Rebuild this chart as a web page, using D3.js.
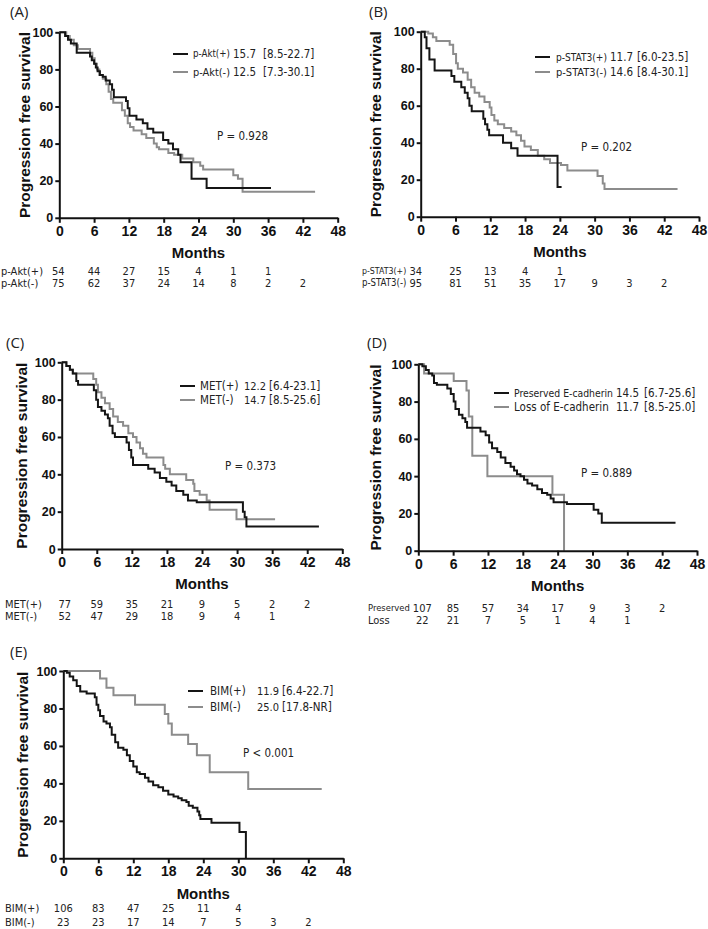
<!DOCTYPE html>
<html lang="en">
<head>
<meta charset="UTF-8">
<title>Progression free survival by marker</title>
<script src="https://d3js.org/d3.v7.min.js"></script>
<style>
  body { margin: 0; background: #fff; }
  svg { display: block; }
  .axis path, .axis line { stroke: #111; stroke-width: 2px; fill: none; }
  .axis text { font-family: "Liberation Sans", Arial, sans-serif; font-weight: bold; fill: #111; }
  .ttl { font-family: "Liberation Sans", Arial, sans-serif; font-weight: bold; fill: #111; }
  .lab { font-family: "Liberation Sans Narrow", "DejaVu Sans Condensed", Lato, sans-serif; fill: #222; }
  .tag { font-family: "Open Sans", sans-serif; fill: #222; }
</style>
</head>
<body>
<svg id="chart" width="708" height="929"></svg>
<script>
// ticks
var monthTicks = [0, 6, 12, 18, 24, 30, 36, 42, 48];
var survTicks = [0, 20, 40, 60, 80, 100];

// curves: [month, % progression free] at each step
var aktPos = [[0,100],[1.0,98],[1.5,96],[2.0,94],[3.0,89],[5.3,87],[5.6,85],[6.0,83],[6.3,81],[6.6,79],[7.0,77],[7.5,76],[8.0,74],[8.7,72],[9.1,69],[9.4,65],[11.5,63],[11.8,59],[12.1,55],[13.3,53],[14.4,51],[15.2,48],[16.2,46],[17.9,42],[18.8,40],[19.6,37],[20.5,34],[20.9,30],[22.8,21],[25.4,16],[36.5,16]];
var aktNeg = [[0,100],[1.2,98],[1.8,96],[2.5,93],[3.2,91],[5.3,89],[5.7,86],[6.1,83],[6.5,80],[6.9,77],[7.5,75],[8.1,72],[8.5,68],[8.9,64],[9.3,62],[10.8,58],[11.3,55],[11.8,51],[12.2,49],[12.8,47],[14.2,45],[15.0,43],[16.3,40],[16.8,38],[17.2,37],[18.8,35],[19.8,34],[21.2,32],[23.1,30],[24.3,28],[24.8,26],[30.0,23],[30.8,21],[31.6,14],[44.1,14]];

var stat3Pos = [[0,100],[0.7,97],[1.0,91],[1.5,85],[2.4,79],[5.3,76],[5.8,73],[7.0,70],[7.6,67],[8.1,64],[8.4,60],[8.8,57],[10.8,53],[11.1,50],[11.5,47],[11.8,44],[14.2,40],[15.6,37],[16.7,33],[23.6,16],[24.3,16]];
var stat3Neg = [[0,100],[1.3,99],[2.1,97],[2.7,95],[5.0,93],[5.6,88],[6.1,83],[6.4,80],[7.3,78],[8.1,74],[8.7,70],[9.3,67],[10.1,65],[11.0,62],[11.9,59],[12.2,55],[12.7,52],[13.3,50],[14.4,48],[15.6,46],[16.5,44],[17.3,41],[17.9,38],[19.0,36],[20.2,33],[21.3,31],[22.3,29],[24.2,28],[25.3,25],[30.5,22],[31.4,18],[31.7,15],[44.3,15]];

var metPos = [[0,100],[0.8,98],[1.4,96],[1.9,94],[2.5,90],[2.8,88],[5.5,85],[5.9,80],[6.2,76],[6.8,74],[7.4,72],[7.9,70],[8.2,66],[8.7,62],[9.1,60],[11.1,57],[11.5,53],[11.9,49],[12.2,45],[14.8,43],[15.9,41],[16.8,38],[17.9,36],[18.8,34],[19.6,31],[20.8,29],[21.6,26],[23.1,25],[31.0,20],[31.3,17],[31.6,12],[44.0,12]];
var metNeg = [[0,100],[0.8,98],[1.4,96],[1.9,94],[5.4,91],[5.9,88],[6.2,84],[6.8,81],[7.4,78],[8.2,75],[8.8,71],[9.6,68],[10.5,66],[11.4,62],[12.2,60],[12.8,57],[13.4,54],[13.9,51],[14.5,49],[17.4,45],[17.7,43],[18.5,40],[21.3,37],[22.5,35],[22.7,31],[23.6,29],[24.8,26],[25.3,21],[29.9,16],[36.5,16]];

var ecadPres = [[0,100],[0.7,99],[1.3,97],[1.8,95],[2.4,94],[2.7,90],[3.2,89],[5.0,87],[5.6,84],[6.1,80],[6.4,76],[7.0,73],[7.6,71],[8.1,69],[8.4,66],[10.7,64],[11.6,62],[12.2,58],[12.7,55],[13.6,53],[14.2,50],[15.0,47],[15.9,45],[16.5,43],[17.0,41],[17.6,40],[18.2,38],[18.8,36],[19.6,35],[20.5,33],[21.3,31],[22.2,30],[22.8,28],[23.3,26],[25.6,25],[30.2,22],[31.0,20],[31.6,15],[44.3,15]];
var ecadLoss = [[0,100],[1.0,95],[6.1,91],[8.3,86],[8.7,72],[9.3,51],[11.9,40],[23.1,30],[25.1,0]];

var bimPos = [[0,100],[0.6,99],[1.1,97],[1.7,95],[2.3,92],[2.9,89],[4.0,88],[5.4,86],[5.7,82],[6.0,79],[6.3,76],[6.9,73],[7.4,72],[8.0,70],[8.3,66],[8.9,62],[9.4,59],[10.3,58],[10.9,55],[11.4,52],[12.0,49],[12.6,46],[13.1,45],[14.0,43],[14.6,41],[15.4,39],[16.3,38],[17.1,36],[18.0,34],[18.9,33],[19.7,32],[20.3,31],[21.1,30],[21.5,28],[22.2,27],[23.0,25],[23.3,23],[23.5,21],[25.4,19],[30.2,14],[31.3,0]];
var bimNeg = [[0,100],[6.3,96],[7.4,91],[8.6,87],[12.3,82],[17.4,77],[18.0,72],[18.6,66],[21.4,61],[22.9,55],[25.1,46],[31.7,37],[44.3,37]];

// numbers at risk, one per month tick
var aktRisk = [[54,44,27,15,4,1,1], [75,62,37,24,14,8,2,2]];
var stat3Risk = [[34,25,13,4,1], [95,81,51,35,17,9,3,2]];
var metRisk = [[77,59,35,21,9,5,2,2], [52,47,29,18,9,4,1]];
var ecadRisk = [[107,85,57,34,17,9,3,2], [22,21,7,5,1,4,1]];
var bimRisk = [[106,83,47,25,11,4], [23,23,17,14,7,5,3,2]];

// legend texts
var aktLegend = [["p-Akt(+)", "15.7", "[8.5-22.7]"], ["p-Akt(-)", "12.5", "[7.3-30.1]"]];
var stat3Legend = [["p-STAT3(+)", "11.7", "[6.0-23.5]"], ["p-STAT3(-)", "14.6", "[8.4-30.1]"]];
var metLegend = [["MET(+)", "12.2", "[6.4-23.1]"], ["MET(-)", "14.7", "[8.5-25.6]"]];
var ecadLegend = [["Preserved E-cadherin", "14.5", "[6.7-25.6]"], ["Loss of E-cadherin", "11.7", "[8.5-25.0]"]];
var bimLegend = [["BIM(+)", "11.9", "[6.4-22.7]"], ["BIM(-)", "25.0", "[17.8-NR]"]];

var riskLabels = [["p-Akt(+)", "p-Akt(-)"], ["p-STAT3(+)", "p-STAT3(-)"], ["MET(+)", "MET(-)"], ["Preserved", "Loss"], ["BIM(+)", "BIM(-)"]];
var pValues = ["P = 0.928", "P = 0.202", "P = 0.373", "P = 0.889", "P < 0.001"];
var tags = ["(A)", "(B)", "(C)", "(D)", "(E)"];

var colors = ["#151515", "#8c8c8c"];

// panel layout (pixels)
var panels = [
  {curves: [aktPos, aktNeg], risk: aktRisk, legend: aktLegend,
   x0: 59.3, x1: 337.7, yTop: 32.3, yBot: 217.8, tag: [10, 12], ylabX: 25,
   leg: {lineX: 173, nameX: 193, medX: 233, ciX: 263, y: [54, 72]}, p: [217, 136], riskX: 1, riskY: [271, 283], col0: -1},
  {curves: [stat3Pos, stat3Neg], risk: stat3Risk, legend: stat3Legend,
   x0: 420.7, x1: 699, yTop: 31.7, yBot: 216.7, tag: [369, 12], ylabX: 376,
   leg: {lineX: 535, nameX: 556, medX: 610, ciX: 637, y: [57, 72]}, p: [581, 147], riskX: 362, riskY: [271, 283], col0: -5},
  {curves: [metPos, metNeg], risk: metRisk, legend: metLegend,
   x0: 61.7, x1: 342.3, yTop: 362.3, yBot: 549, tag: [6, 343], ylabX: 22,
   leg: {lineX: 180, nameX: 200, medX: 244, ciX: 269, y: [386, 400]}, p: [225, 466], riskX: 5, riskY: [604, 616], col0: 3},
  {curves: [ecadPres, ecadLoss], risk: ecadRisk, legend: ecadLegend,
   x0: 418.3, x1: 697, yTop: 364.3, yBot: 550.7, tag: [367, 343], ylabX: 376,
   leg: {lineX: 494, nameX: 514, medX: 616, ciX: 644, y: [393, 407]}, p: [581, 473], riskX: 368, riskY: [608, 620], col0: 4},
  {curves: [bimPos, bimNeg], risk: bimRisk, legend: bimLegend,
   x0: 63.3, x1: 343.3, yTop: 671, yBot: 858.3, tag: [10, 652], ylabX: 23,
   leg: {lineX: 188, nameX: 210, medX: 257, ciX: 282, y: [691, 707]}, p: [243, 753], riskX: 5, riskY: [908, 922], col0: 0}
];

// shrink a label if it would run into the next one
function fitText(sel, size, maxW) {
  var w = sel.node().getComputedTextLength();
  if (w > maxW) sel.style("font-size", (size * maxW / w).toFixed(2) + "px");
}

var svg = d3.select("#chart");

panels.forEach(function(pn, k) {
  var x = d3.scaleLinear().domain([0, 48]).range([pn.x0, pn.x1]);
  var y = d3.scaleLinear().domain([0, 100]).range([pn.yBot, pn.yTop]);
  var g = svg.append("g");

  // panel tag
  g.append("text").attr("class", "tag")
    .attr("x", pn.tag[0]).attr("y", pn.tag[1]).attr("dy", "0.35em")
    .style("font-size", "15px").text(tags[k]);

  // survival curves (gray under black)
  var line = d3.line()
    .x(function(d) { return x(d[0]); })
    .y(function(d) { return y(d[1]); })
    .curve(d3.curveStepAfter);
  [1, 0].forEach(function(i) {
    g.append("path")
      .datum(pn.curves[i])
      .attr("d", line)
      .attr("fill", "none")
      .attr("stroke", colors[i])
      .attr("stroke-width", 2);
  });

  // axes
  g.append("g").attr("class", "axis")
    .attr("transform", "translate(0," + pn.yBot + ")")
    .call(d3.axisBottom(x).tickValues(monthTicks).tickSize(5).tickSizeOuter(0).tickPadding(3))
    .selectAll("text").style("font-size", "14px");
  g.append("g").attr("class", "axis")
    .attr("transform", "translate(" + pn.x0 + ",0)")
    .call(d3.axisLeft(y).tickValues(survTicks).tickSize(4).tickSizeOuter(0).tickPadding(2))
    .selectAll("text").style("font-size", "12.5px");

  // axis titles
  g.append("text").attr("class", "ttl")
    .attr("x", (pn.x0 + pn.x1) / 2).attr("y", pn.yBot + 35).attr("dy", "0.35em")
    .attr("text-anchor", "middle").style("font-size", "15px").text("Months");
  g.append("text").attr("class", "ttl")
    .attr("transform", "translate(" + pn.ylabX + "," + ((pn.yTop + pn.yBot) / 2) + ") rotate(-90)")
    .attr("dy", "0.35em").attr("text-anchor", "middle")
    .style("font-size", "15.5px").text("Progression free survival");

  // legend
  pn.legend.forEach(function(row, i) {
    var ly = pn.leg.y[i];
    g.append("line")
      .attr("x1", pn.leg.lineX).attr("x2", pn.leg.lineX + 15)
      .attr("y1", ly).attr("y2", ly)
      .attr("stroke", colors[i]).attr("stroke-width", 2);
    var xs = [pn.leg.nameX, pn.leg.medX, pn.leg.ciX, 712];
    row.forEach(function(txt, j) {
      var t = g.append("text").attr("class", "lab")
        .attr("x", xs[j]).attr("y", ly).attr("dy", "0.35em")
        .style("font-size", "11.5px").text(txt);
      fitText(t, 11.5, xs[j + 1] - xs[j] - 3);
    });
  });

  // p value
  g.append("text").attr("class", "lab")
    .attr("x", pn.p[0]).attr("y", pn.p[1]).attr("dy", "0.35em")
    .style("font-size", "11.5px").text(pValues[k]);

  // numbers at risk
  pn.risk.forEach(function(row, i) {
    var ry = pn.riskY[i];
    var nums = g.selectAll(null)
      .data(row)
      .enter().append("text").attr("class", "lab")
      .attr("x", function(d, j) { return x(monthTicks[j]) + (j === 0 ? pn.col0 : 0); })
      .attr("y", ry).attr("dy", "0.35em")
      .attr("text-anchor", "middle")
      .style("font-size", "11px")
      .text(function(d) { return d; });
    var firstLeft = x(0) + pn.col0 - nums.node().getComputedTextLength() / 2;
    var lab = g.append("text").attr("class", "lab")
      .attr("x", pn.riskX).attr("y", ry).attr("dy", "0.35em")
      .style("font-size", "11px").text(riskLabels[k][i]);
    fitText(lab, 11, firstLeft - pn.riskX - 3);
  });
});
</script>
</body>
</html>
